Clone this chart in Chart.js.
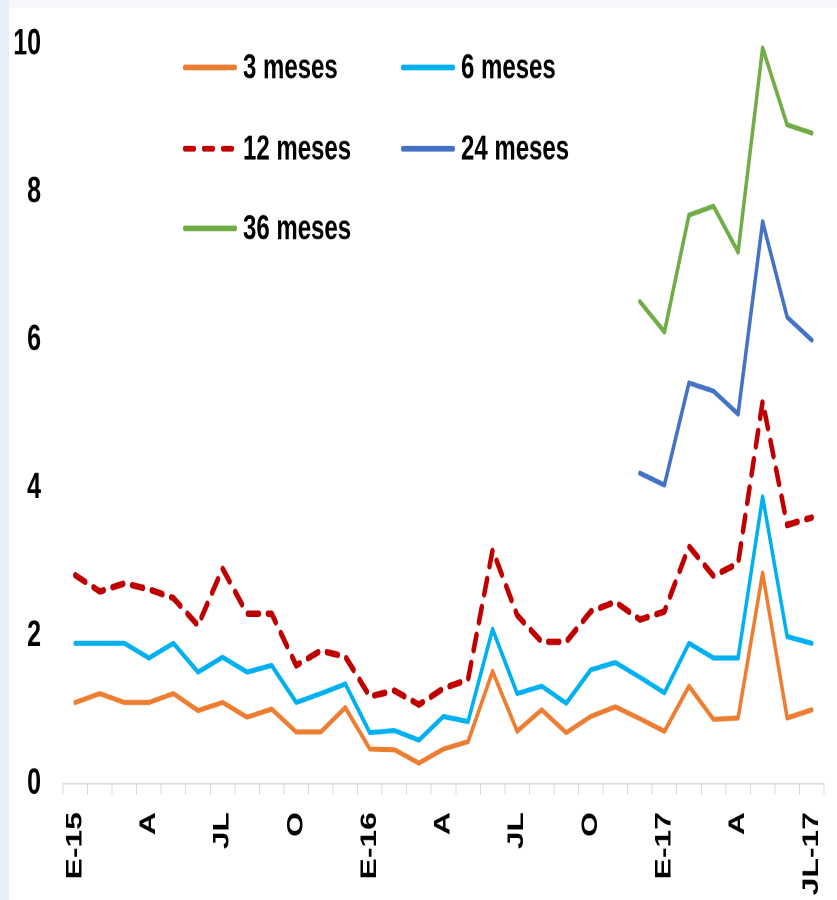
<!DOCTYPE html>
<html>
<head>
<meta charset="utf-8">
<script src="https://cdn.jsdelivr.net/npm/chart.js@4.4.1/dist/chart.umd.min.js"></script>
<style>
  html, body { margin: 0; padding: 0; }
  body { width: 837px; height: 900px; background: #f5f7fc; position: relative; overflow: hidden; }
  #leftStrip { position: absolute; left: 0; top: 0; width: 9px; height: 900px; background: #e9eff8; }
  #wrap { position: absolute; left: 9px; top: 8px; width: 828px; height: 892px; background: #ffffff; overflow: hidden; }
  #c { position: absolute; left: 0; top: 0; transform-origin: 0 0; transform: scaleY(1.45); }
</style>
</head>
<body>
<div id="leftStrip"></div>
<div id="wrap"><canvas id="c" width="828" height="615"></canvas></div>
<script>
// Categories: monthly, Jan 2015 - Jul 2017
const categories = ['E-15','F','M','A','MY','JN','JL','AG','S','O','N','D',
                    'E-16','F','M','A','MY','JN','JL','AG','S','O','N','D',
                    'E-17','F','M','A','MY','JN','JL-17'];
// Tick labels shown on the axis (every third month)
const shownTicks = ['E-15','A','JL','O','E-16','A','JL','O','E-17','A','JL-17'];

const seriesNames = ['3 meses','6 meses','12 meses','24 meses','36 meses'];

const m3  = [1.10,1.22,1.10,1.10,1.22,0.99,1.10,0.90,1.01,0.70,0.70,1.03,
             0.47,0.46,0.28,0.47,0.57,1.52,0.71,1.00,0.69,0.91,1.04,0.88,
             0.71,1.32,0.87,0.89,2.85,0.89,1.00];
const m6  = [1.90,1.90,1.90,1.70,1.90,1.51,1.71,1.51,1.60,1.10,1.22,1.35,
             0.69,0.72,0.59,0.91,0.84,2.09,1.22,1.32,1.09,1.54,1.64,1.44,
             1.23,1.90,1.70,1.70,3.88,1.99,1.90];
const m12 = [2.82,2.60,2.71,2.63,2.51,2.14,2.91,2.30,2.30,1.60,1.80,1.72,
             1.18,1.26,1.07,1.29,1.41,3.16,2.28,1.92,1.92,2.33,2.46,2.22,
             2.33,3.21,2.81,2.98,5.17,3.50,3.60];
const m24 = [null,null,null,null,null,null,null,null,null,null,null,null,
             null,null,null,null,null,null,null,null,null,null,null,4.20,
             4.04,5.42,5.31,5.00,7.60,6.31,6.00];
const m36 = [null,null,null,null,null,null,null,null,null,null,null,null,
             null,null,null,null,null,null,null,null,null,null,null,6.52,
             6.11,7.69,7.81,7.19,9.95,8.91,8.80];

const yTicks = [0, 2, 4, 6, 8, 10];

const colors = ['#ED7D31', '#00B0F0', '#C00000', '#4472C4', '#70AD47'];
const FONT = "'Liberation Sans', Arial, sans-serif";

function ds(i, data, extra) {
  return Object.assign({
    label: seriesNames[i],
    data: data,
    borderColor: colors[i],
    backgroundColor: colors[i],
    borderWidth: 3.5,
    pointRadius: 0,
    pointHoverRadius: 0,
    tension: 0,
    fill: false,
    spanGaps: false,
    borderCapStyle: 'round',
    borderJoinStyle: 'round'
  }, extra || {});
}

// Legend drawn inside the plot area (2 columns, 3 rows)
const legendLayout = [
  { x: 174, y: 41 },  // 3 meses
  { x: 392, y: 41 },  // 6 meses
  { x: 174, y: 97 },  // 12 meses
  { x: 392, y: 97 },  // 24 meses
  { x: 174, y: 152 }  // 36 meses
];
const insideLegend = {
  id: 'insideLegend',
  afterDraw(chart) {
    const ctx = chart.ctx;
    ctx.save();
    chart.data.datasets.forEach((d, i) => {
      const p = legendLayout[i];
      ctx.beginPath();
      ctx.strokeStyle = d.borderColor;
      ctx.lineWidth = 4;
      ctx.lineCap = 'round';
      if (d.borderDash && d.borderDash.length) {
        ctx.setLineDash([9, 10]);
      } else {
        ctx.setLineDash([]);
      }
      ctx.moveTo(p.x + 2, p.y);
      ctx.lineTo(p.x + 52, p.y);
      ctx.stroke();
      ctx.setLineDash([]);
      ctx.fillStyle = '#000';
      ctx.font = "bold 24px " + FONT;
      ctx.textBaseline = 'middle';
      ctx.textAlign = 'left';
      ctx.fillText(d.label, p.x + 60, p.y + 1);
    });
    ctx.restore();
  }
};

new Chart(document.getElementById('c'), {
  type: 'line',
  data: {
    labels: categories,
    datasets: [
      ds(0, m3),
      ds(1, m6),
      ds(2, m12, { borderWidth: 4.5, borderDash: [11, 9], borderCapStyle: 'round' }),
      ds(3, m24),
      ds(4, m36)
    ]
  },
  options: {
    responsive: false,
    animation: false,
    devicePixelRatio: 2,
    layout: { padding: { top: 25, right: 13, left: 0, bottom: 0 } },
    plugins: {
      legend: { display: false },
      tooltip: { enabled: false }
    },
    scales: {
      x: {
        type: 'category',
        offset: true,
        grid: {
          display: true,
          drawOnChartArea: false,
          drawTicks: true,
          tickLength: 7.5,
          tickWidth: 1,
          color: '#d9d9d9',
          offset: true
        },
        border: { display: true, color: '#d9d9d9', width: 1 },
        ticks: {
          autoSkip: false,
          minRotation: 90,
          maxRotation: 90,
          padding: 12,
          color: '#000',
          font: { family: FONT, size: 22, weight: 'bold' },
          callback: function(value, index) {
            const lab = categories[index];
            return shownTicks.includes(lab) && index % 3 === 0 ? lab : '';
          }
        },
        afterFit(scale) {
          scale.height = 80;
          scale.paddingLeft = 0;
          scale.paddingRight = 0;
        }
      },
      y: {
        min: 0,
        max: 10,
        afterBuildTicks(scale) { scale.ticks = yTicks.map(v => ({ value: v })); },
        grid: { display: false },
        border: { display: false },
        ticks: {
          padding: 14,
          color: '#000',
          font: { family: FONT, size: 25, weight: 'bold' }
        },
        afterFit(scale) {
          scale.width = 54;
          scale.paddingTop = 0;
          scale.paddingBottom = 0;
        }
      }
    }
  },
  plugins: [insideLegend]
});
</script>
</body>
</html>
